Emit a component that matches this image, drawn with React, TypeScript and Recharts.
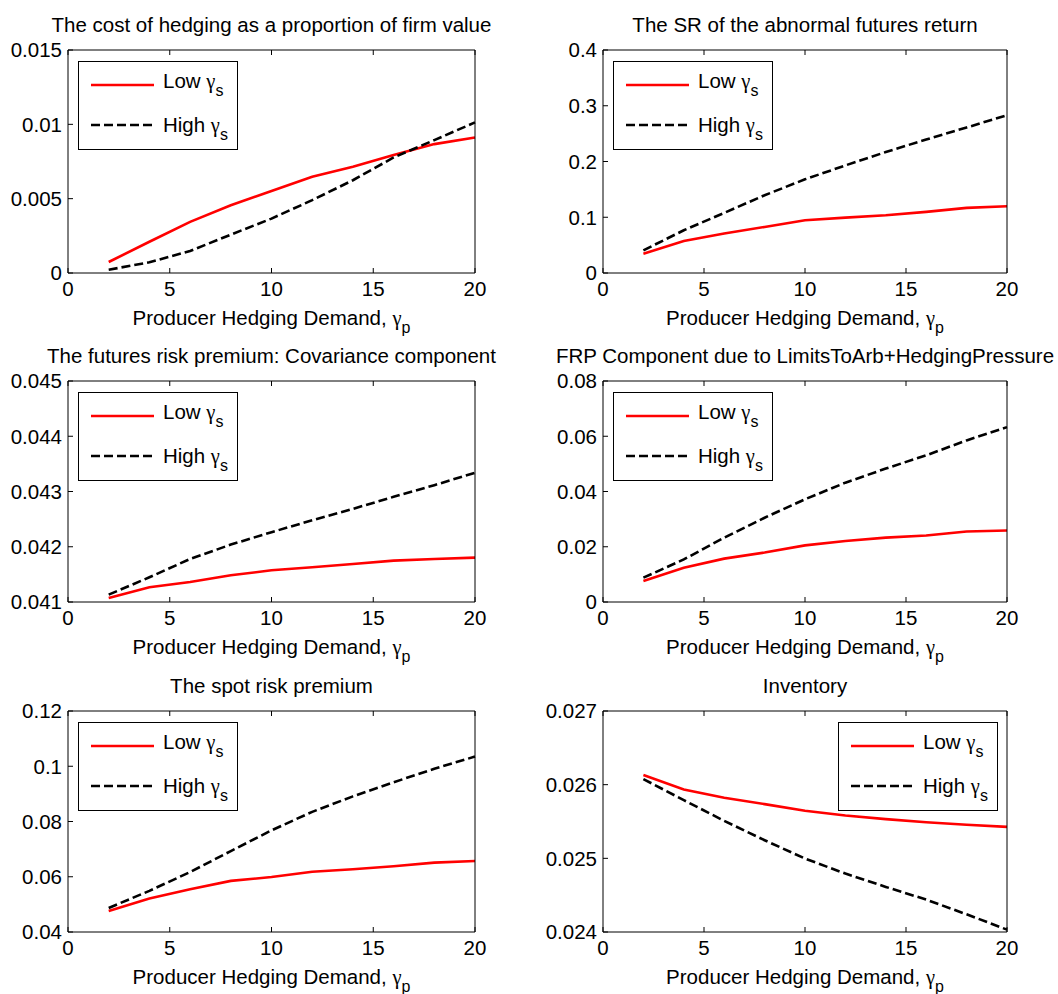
import React from "react";
import { LineChart, Line, XAxis, YAxis, Legend } from "recharts";

const FONT = '"Liberation Sans", Arial, Helvetica, sans-serif';
const GREEK = '"Liberation Serif", "Times New Roman", serif';
const FS = 20.5;

// producer hedging demand grid
const gammaP = [2, 4, 6, 8, 10, 12, 14, 16, 18, 20];
const xTicks = [0, 5, 10, 15, 20];

const costLow = [0.00074, 0.0021, 0.00344, 0.00456, 0.00552, 0.00647, 0.00714, 0.00793, 0.00867, 0.00912];
const costHigh = [0.00022, 0.00072, 0.00148, 0.00258, 0.00366, 0.0049, 0.00624, 0.00777, 0.00894, 0.01013];
const srLow = [0.0347, 0.0575, 0.0707, 0.0826, 0.0946, 0.0994, 0.1036, 0.1096, 0.1168, 0.1198];
const srHigh = [0.0407, 0.0766, 0.1078, 0.1395, 0.168, 0.193, 0.217, 0.2395, 0.261, 0.283];
const covLow = [0.041073, 0.041266, 0.041363, 0.041483, 0.041574, 0.041628, 0.041689, 0.041749, 0.041779, 0.041804];
const covHigh = [0.041133, 0.041447, 0.041779, 0.042039, 0.042263, 0.04248, 0.042686, 0.042903, 0.043115, 0.043338];
const frpLow = [0.0076, 0.0124, 0.0157, 0.0179, 0.0205, 0.0221, 0.0233, 0.0241, 0.0255, 0.0259];
const frpHigh = [0.0088, 0.0154, 0.0233, 0.0305, 0.0372, 0.0432, 0.0483, 0.0531, 0.0585, 0.0633];
const spotLow = [0.0476, 0.0521, 0.0555, 0.0585, 0.0599, 0.0618, 0.0627, 0.0638, 0.0651, 0.0657];
const spotHigh = [0.0487, 0.0549, 0.0617, 0.0693, 0.0768, 0.0835, 0.0891, 0.0942, 0.0991, 0.1035];
const invLow = [0.02613, 0.025935, 0.025822, 0.025736, 0.025645, 0.025582, 0.025532, 0.02549, 0.025455, 0.025427];
const invHigh = [0.026076, 0.02579, 0.025509, 0.025246, 0.024997, 0.024793, 0.024612, 0.02444, 0.02424, 0.024032];

const costTicks = [0, 0.005, 0.01, 0.015];
const srTicks = [0, 0.1, 0.2, 0.3, 0.4];
const covTicks = [0.041, 0.042, 0.043, 0.044, 0.045];
const frpTicks = [0, 0.02, 0.04, 0.06, 0.08];
const spotTicks = [0.04, 0.06, 0.08, 0.1, 0.12];
const invTicks = [0.024, 0.025, 0.026, 0.027];

const titles = [
  "The cost of hedging as a proportion of firm value",
  "The SR of the abnormal futures return",
  "The futures risk premium: Covariance component",
  "FRP Component due to LimitsToArb+HedgingPressure",
  "The spot risk premium",
  "Inventory",
];

const panels = [
  { low: costLow, high: costHigh, ticks: costTicks, legendRight: false },
  { low: srLow, high: srHigh, ticks: srTicks, legendRight: false },
  { low: covLow, high: covHigh, ticks: covTicks, legendRight: false },
  { low: frpLow, high: frpHigh, ticks: frpTicks, legendRight: false },
  { low: spotLow, high: spotHigh, ticks: spotTicks, legendRight: false },
  { low: invLow, high: invHigh, ticks: invTicks, legendRight: true },
];

const rowTops = [0, 330, 660];
const rowHeights = [330, 330, 334];
const rowMarginTop = [49, 50, 50];
const rowMarginBottom = [27, 28, 32];

const DASH = "9 4";
const noTick = () => <g />;

const LegendBox = () => (
  <svg width={160} height={89} style={{ display: "block" }}>
    <rect x={0.5} y={0.5} width={159} height={88} fill="#fff" stroke="#000" strokeWidth={1} />
    <line x1={13} x2={76} y1={24} y2={24} stroke="#ff0000" strokeWidth={2.6} />
    <line x1={13} x2={76} y1={64} y2={64} stroke="#000" strokeWidth={2.6} strokeDasharray={DASH} />
    <text x={85} y={27} fontFamily={FONT} fontSize={FS} fill="#000">
      Low <tspan fontFamily={GREEK}>γ</tspan>
      <tspan dy={8} fontSize={16}>s</tspan>
    </text>
    <text x={85} y={71} fontFamily={FONT} fontSize={FS} fill="#000">
      High <tspan fontFamily={GREEK}>γ</tspan>
      <tspan dy={8} fontSize={16}>s</tspan>
    </text>
  </svg>
);

function geom(i: number) {
  const col = i % 2;
  const row = Math.floor(i / 2);
  const left = col * 529;
  const top = rowTops[row];
  const h = rowHeights[row];
  const margin = { left: col ? 14 : 8, right: col ? 50 : 53, top: rowMarginTop[row], bottom: rowMarginBottom[row] };
  const plotLeft = margin.left + 60;
  const plotRight = 529 - margin.right - 1;
  const plotTop = margin.top + 1;
  const plotBottom = h - margin.bottom - 30;
  return { left, top, h, margin, plotLeft, plotRight, plotTop, plotBottom };
}

function Panel({ i }: { i: number }) {
  const p = panels[i];
  const g = geom(i);
  const data = gammaP.map((x, k) => ({ x, low: p.low[k], high: p.high[k] }));
  const yDomain = [p.ticks[0], p.ticks[p.ticks.length - 1]];
  const legendLeft = p.legendRight ? g.plotRight - 9 - 160 : g.plotLeft + 10;
  const axisProps = { stroke: "#000", tickLine: { stroke: "#000" }, tickSize: -5 };
  return (
    <div style={{ position: "absolute", left: g.left, top: g.top }}>
      <LineChart width={529} height={g.h} data={data} margin={g.margin}>
        <XAxis
          dataKey="x"
          type="number"
          domain={[0, 20]}
          ticks={xTicks}
          height={30}
          {...axisProps}
          tickMargin={13}
          tick={{ fill: "#000", fontSize: FS, fontFamily: FONT }}
        />
        <XAxis xAxisId="top" orientation="top" dataKey="x" type="number" domain={[0, 20]} ticks={xTicks} height={1} {...axisProps} tick={noTick} />
        <YAxis
          type="number"
          domain={yDomain}
          ticks={p.ticks}
          width={60}
          {...axisProps}
          tickMargin={11}
          tickFormatter={(v: number) => String(v)}
          tick={{ fill: "#000", fontSize: FS, fontFamily: FONT }}
        />
        <YAxis yAxisId="right" orientation="right" type="number" domain={yDomain} ticks={p.ticks} width={1} {...axisProps} tick={noTick} />
        <Legend
          layout="horizontal"
          verticalAlign="middle"
          align="center"
          content={() => <LegendBox />}
          wrapperStyle={{ left: legendLeft, top: g.plotTop + 11, width: 160, height: 89 }}
        />
        <Line type="linear" dataKey="low" stroke="#ff0000" strokeWidth={2.6} dot={false} isAnimationActive={false} />
        <Line type="linear" dataKey="high" stroke="#000" strokeWidth={2.6} strokeDasharray={DASH} dot={false} isAnimationActive={false} />
      </LineChart>
    </div>
  );
}

export default function App() {
  return (
    <div style={{ position: "absolute", left: 0, top: 0, width: 1058, height: 994, background: "#fff", overflow: "hidden" }}>
      {panels.map((_, i) => (
        <Panel key={i} i={i} />
      ))}
      <svg width={1058} height={994} style={{ position: "absolute", left: 0, top: 0, pointerEvents: "none" }}>
        {titles.map((t, i) => {
          const g = geom(i);
          const cx = g.left + (g.plotLeft + g.plotRight) / 2;
          return (
            <g key={i} fontFamily={FONT} fill="#000">
              <text x={cx} y={g.top + g.plotTop - 18} textAnchor="middle" fontSize={FS}>
                {t}
              </text>
              <text x={cx} y={g.top + g.plotBottom + 52} textAnchor="middle" fontSize={FS}>
                Producer Hedging Demand, <tspan fontFamily={GREEK}>γ</tspan>
                <tspan dy={8} fontSize={16}>p</tspan>
              </text>
            </g>
          );
        })}
      </svg>
    </div>
  );
}
